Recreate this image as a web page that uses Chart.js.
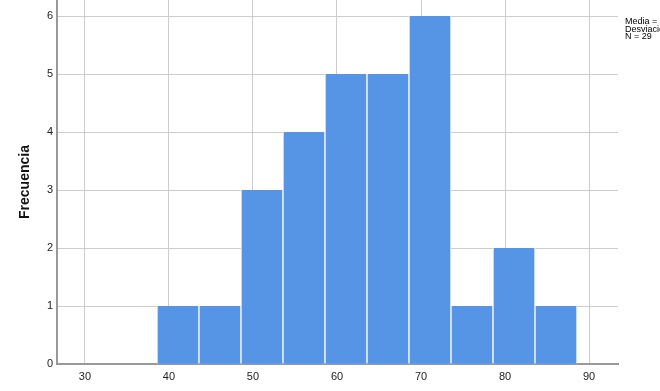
<!DOCTYPE html>
<html><head><meta charset="utf-8">
<script src="https://cdn.jsdelivr.net/npm/chart.js@4/dist/chart.umd.min.js"></script>
<style>html,body{margin:0;padding:0;background:#fff;overflow:hidden}#wrap{width:660px;height:391px;position:relative}</style>
</head><body><div id="wrap"><canvas id="c" width="660" height="391"></canvas></div>
<script>
const binStarts = [38.57, 43.57, 48.57, 53.57, 58.57, 63.57, 68.57, 73.57, 78.57, 83.57];
const binWidth = 5;
const counts = [1, 1, 3, 4, 5, 5, 6, 1, 2, 1];
const xTicks = [30, 40, 50, 60, 70, 80, 90];
const yTicks = [0, 1, 2, 3, 4, 5, 6];
const legendLines = ["Media = 63,83", "Desviación estándar = 11,3", "N = 29"];

const data = binStarts.map((s, i) => ({x: s + binWidth / 2, y: counts[i]}));

const statsPlugin = {
  id: 'stats',
  afterDraw(chart) {
    const ctx = chart.ctx;
    ctx.save();
    ctx.fillStyle = '#000';
    ctx.font = '9px "Liberation Sans", Arial, sans-serif';
    ctx.textBaseline = 'middle';
    ctx.textAlign = 'left';
    legendLines.forEach((t, i) => ctx.fillText(t, 625, 22 + i * 7.5));
    ctx.restore();
  }
};

new Chart(document.getElementById('c'), {
  type: 'bar',
  data: {
    datasets: [{
      data: data,
      backgroundColor: '#5694e6',
      borderColor: '#ffffff',
      borderWidth: {left: 1, right: 1, top: 0, bottom: 0},
      borderSkipped: false,
      barPercentage: 1,
      categoryPercentage: 1
    }]
  },
  options: {
    responsive: false,
    animation: false,
    devicePixelRatio: 1,
    layout: {padding: {left: 0, right: 42, top: 0, bottom: 0}},
    plugins: {legend: {display: false}, tooltip: {enabled: false}},
    scales: {
      x: {
        type: 'linear',
        offset: false,
        min: 26.67,
        max: 93.45,
        afterBuildTicks: s => { s.ticks = xTicks.map(v => ({value: v})); },
        afterFit: s => { s.height = 27; s.paddingLeft = 0; s.paddingRight = 0; },
        grid: {color: '#cccccc', lineWidth: 1, drawTicks: false, offset: false},
        border: {color: '#999999', width: 2},
        ticks: {color: '#222', font: {family: '"Liberation Sans", Arial, sans-serif', size: 11}, padding: 6, maxRotation: 0}
      },
      y: {
        min: 0,
        max: 6.276,
        afterBuildTicks: s => { s.ticks = yTicks.map(v => ({value: v})); },
        afterFit: s => { s.width = 57; s.paddingTop = 0; s.paddingBottom = 0; },
        grid: {color: '#cccccc', lineWidth: 1, drawTicks: false},
        border: {color: '#999999', width: 2},
        ticks: {color: '#222', font: {family: '"Liberation Sans", Arial, sans-serif', size: 11}, padding: 4},
        title: {display: true, text: 'Frecuencia', color: '#111', font: {family: '"Liberation Sans", Arial, sans-serif', size: 14, weight: 'bold'}, padding: {top: 17, bottom: 0}}
      }
    }
  },
  plugins: [statsPlugin]
});
</script></body></html>
